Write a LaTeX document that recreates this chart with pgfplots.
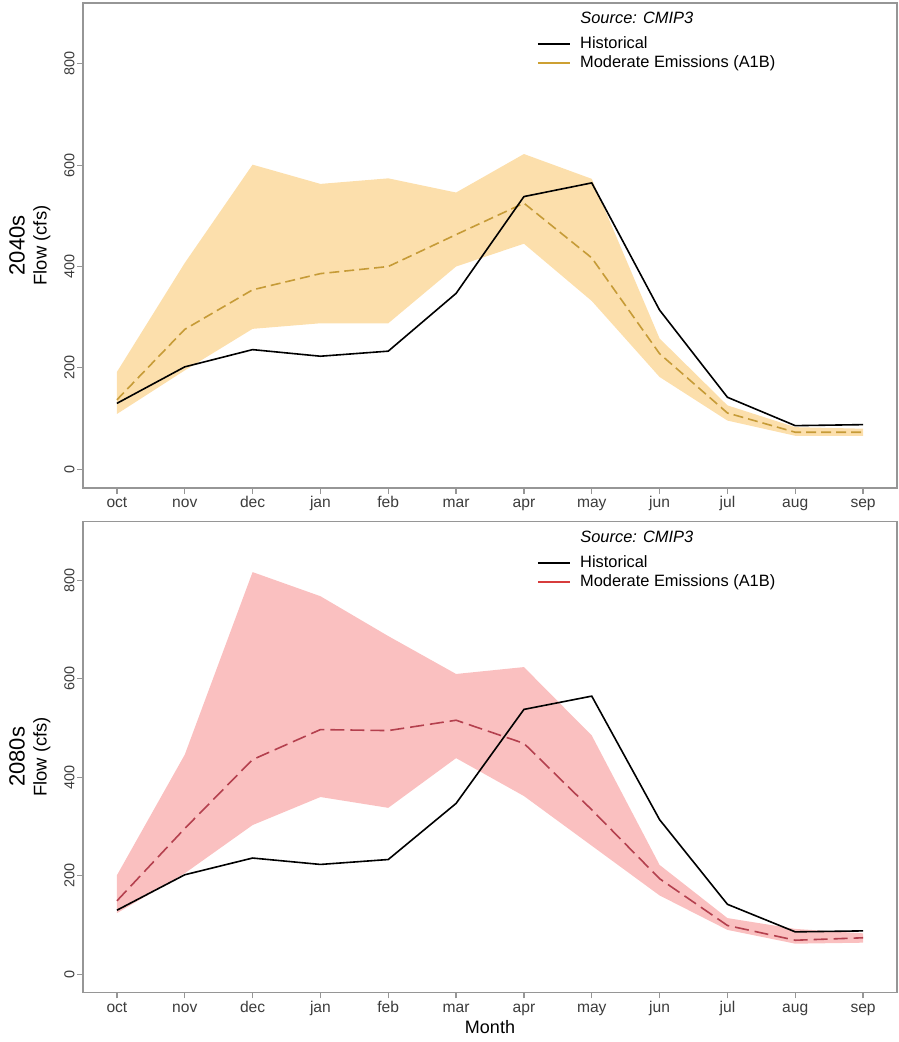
\documentclass[border=0pt]{standalone}
\usepackage{fontspec}
\setmainfont{Liberation Sans}
\usepackage{pgfplots}
\pgfplotsset{compat=1.18}
\definecolor{boxgray}{RGB}{150,150,150}
\definecolor{ticktext}{RGB}{60,60,60}
\definecolor{fillA}{RGB}{252,223,172}
\definecolor{lineA}{RGB}{198,155,55}
\definecolor{legA}{RGB}{205,160,50}
\definecolor{fillB}{RGB}{250,192,192}
\definecolor{lineB}{RGB}{180,64,78}
\definecolor{legB}{RGB}{215,60,60}
\pgfplotsset{panel/.style={
  anchor=north west, scale only axis, width=407pt, clip=false,
  xmin=-0.5, xmax=11.5, ymin=-37, ymax=920,
  xtick={0,...,11}, xticklabels={oct,nov,dec,jan,feb,mar,apr,may,jun,jul,aug,sep},
  ytick={0,200,400,600,800},
  /pgf/number format/assume math mode=true,
  axis line style={boxgray, line width=0.75pt},
  tick style={boxgray, line width=0.6pt},
  tick align=outside, major tick length=3pt,
  xtick pos=bottom, ytick pos=left,
  xticklabel style={font=\fontsize{7.8}{9}\selectfont, text=ticktext, inner sep=1pt, text height=5.6pt, text depth=1.6pt},
  yticklabel style={font=\fontsize{7.2}{9}\selectfont, text=ticktext, rotate=90, anchor=south, inner sep=1pt},
  ylabel={Flow (cfs)},
  ylabel style={at={(axis description cs:-0.0504,0.5)}, anchor=center, font=\fontsize{9.2}{11}\selectfont},
  legend cell align=left,
  legend image code/.code={\draw[##1, solid, line width=1pt] (0pt,0pt) -- (16pt,0pt); \path (21pt,0pt);},
  legend style={draw=none, fill=none, anchor=north west, font=\fontsize{8.2}{9.8}\selectfont,
    inner sep=0pt, row sep=1.6pt,
    nodes={inner sep=0pt, text height=6.2pt, text depth=1.7pt}},
}}
\begin{document}
\begin{tikzpicture}
\useasboundingbox (0,0) rectangle (449pt,-521pt);
% ---------- 2040s ----------
\begin{axis}[panel, at={(41.5pt,-1.5pt)}, height=242.5pt,
  legend style={at={(axis description cs:0.557,0.9332)}}]
\addlegendimage{black}
\addlegendentry{Historical}
\addlegendimage{legA}
\addlegendentry{Moderate Emissions (A1B)}
\addplot[fill=fillA, draw=none, forget plot] coordinates {
 (0,192) (1,407) (2,601) (3,563) (4,574) (5,546) (6,622) (7,573) (8,258) (9,126) (10,83) (11,80)
 (11,66) (10,66) (9,96) (8,182) (7,332) (6,445) (5,400) (4,288) (3,288) (2,277) (1,195) (0,109)} -- cycle;
\addplot[lineA, line width=0.8pt, dash pattern=on 5pt off 2.5pt, forget plot] coordinates {
 (0,137) (1,276) (2,354) (3,386) (4,400) (5,463) (6,525) (7,417) (8,228) (9,111) (10,73) (11,73)};
\addplot[black, line width=0.8pt, forget plot] coordinates {
 (0,130) (1,202) (2,236) (3,223) (4,233) (5,347) (6,538) (7,565) (8,314) (9,142) (10,86) (11,88)};
\node[anchor=base west, inner sep=0pt, font=\fontsize{8.2}{9.8}\selectfont\itshape] at (axis description cs:0.6106,0.957) {Source: CMIP3};
\node[rotate=90, font=\fontsize{11}{13}\selectfont] at (axis description cs:-0.0811,0.5) {2040s};
\end{axis}
% ---------- 2080s ----------
\begin{axis}[panel, at={(41.5pt,-260.7pt)}, height=235.5pt,
  legend style={at={(axis description cs:0.557,0.929)}},
  xlabel={Month},
  xlabel style={at={(axis description cs:0.5,-0.0743)}, anchor=center, font=\fontsize{9}{11}\selectfont}]
\addlegendimage{black}
\addlegendentry{Historical}
\addlegendimage{legB}
\addlegendentry{Moderate Emissions (A1B)}
\addplot[fill=fillB, draw=none, forget plot] coordinates {
 (0,201) (1,446) (2,817) (3,768) (4,687) (5,610) (6,624) (7,485) (8,222) (9,114) (10,92) (11,83)
 (11,64) (10,62) (9,90) (8,160) (7,261) (6,362) (5,439) (4,338) (3,360) (2,303) (1,205) (0,124)} -- cycle;
\addplot[lineB, line width=0.8pt, dash pattern=on 7pt off 3pt, forget plot] coordinates {
 (0,149) (1,296) (2,436) (3,497) (4,495) (5,516) (6,469) (7,334) (8,194) (9,99) (10,69) (11,74)};
\addplot[black, line width=0.8pt, forget plot] coordinates {
 (0,130) (1,202) (2,236) (3,223) (4,233) (5,347) (6,538) (7,565) (8,314) (9,142) (10,86) (11,88)};
\node[anchor=base west, inner sep=0pt, font=\fontsize{8.2}{9.8}\selectfont\itshape] at (axis description cs:0.6106,0.9558) {Source: CMIP3};
\node[rotate=90, font=\fontsize{11}{13}\selectfont] at (axis description cs:-0.0811,0.5) {2080s};
\end{axis}
\end{tikzpicture}
\end{document}
